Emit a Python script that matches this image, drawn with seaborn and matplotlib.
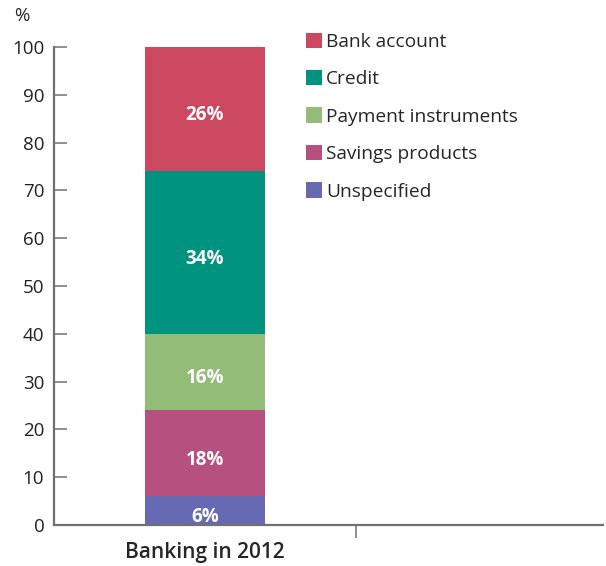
import matplotlib
matplotlib.use("Agg")
import matplotlib.pyplot as plt
import seaborn as sns
import pandas as pd
from matplotlib.patches import Patch

categories = ["Bank account", "Credit", "Payment instruments", "Savings products", "Unspecified"]
values = [26, 34, 16, 18, 6]
colors = ["#CC4760", "#009480", "#93BC79", "#B5507F", "#6769B2"]
group = "Banking in 2012"
yticks = [0, 10, 20, 30, 40, 50, 60, 70, 80, 90, 100]

sns.set_style("white")
plt.rcParams["font.family"] = ["Open Sans", "DejaVu Sans"]

W, H = 606, 566
fig = plt.figure(figsize=(W / 100, H / 100), dpi=100)
ax = fig.add_axes([54 / W, (H - 525) / H, (603 - 54) / W, (525 - 47) / H])

# cumulative tops, bottom-up order
order = list(range(len(values)))[::-1]  # Unspecified first
cum = []
s = 0
for i in order:
    s += values[i]
    cum.append((i, s))

bar_w = 0.397
# draw tallest first so smaller overlay
for i, top in sorted(cum, key=lambda t: -t[1]):
    df = pd.DataFrame({"g": [group], "v": [top]})
    sns.barplot(data=df, x="g", y="v", color=colors[i], width=bar_w,
                saturation=1, ax=ax, linewidth=0)

for i, top in cum:
    ax.text(0, top - values[i] / 2 - 1.3, f"{values[i]}%", ha="center", va="center",
            color="white", fontsize=13.5, fontweight="bold")

ax.set_xlim(-0.5, -0.5 + 549 / 302)
ax.set_ylim(0, 100)
ax.set_yticks(yticks)
ax.set_xticks([0])
ax.set_xticklabels([group], fontsize=15, fontweight="semibold")
ax.set_xticks([0.5], minor=True)
ax.tick_params(axis="x", which="major", bottom=True, length=0, pad=12)
ax.tick_params(axis="x", which="minor", bottom=True, length=9, width=1.1, color="#707070", direction="out")
ax.yaxis.set_tick_params(which="major", left=True, length=9.5, width=1.1, color="#707070",
                         direction="in", labelsize=13.5, pad=7, labelcolor="#222222")
ax.set_xlabel("")
ax.set_ylabel("")
for side in ["top", "right"]:
    ax.spines[side].set_visible(False)
for side in ["left", "bottom"]:
    ax.spines[side].set_color("#707070")
    ax.spines[side].set_linewidth(1.6)

fig.text(22 / W, 1 - 16 / H, "%", ha="center", va="center", fontsize=13.5)

handles = [Patch(facecolor=c, edgecolor="none") for c in colors]
fig.legend(handles, categories, loc="upper left", bbox_to_anchor=(306 / W, 1 - 32.5 / H),
           frameon=False, fontsize=13.8, handlelength=0.85, handleheight=0.85,
           handletextpad=0.2, labelspacing=1.0, borderpad=0, borderaxespad=0)

fig.savefig("out.png", dpi=100)
